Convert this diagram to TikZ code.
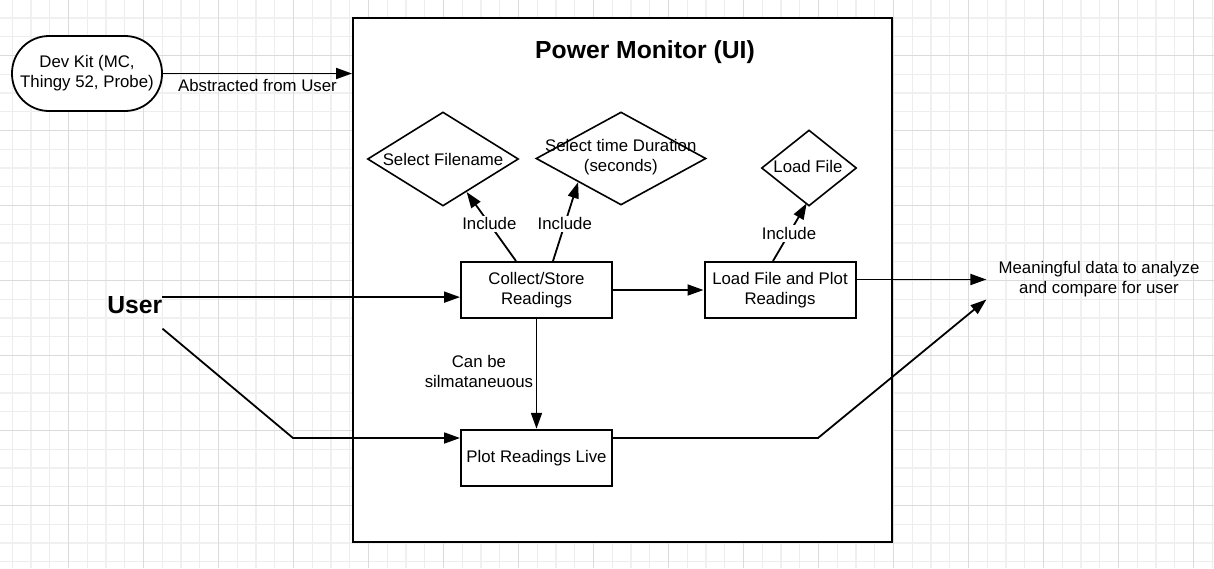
\documentclass[tikz,border=0pt]{standalone}
\usepackage{fontspec}
\setmainfont{Liberation Sans}
\usetikzlibrary{arrows.meta,shapes.geometric,calc}
\begin{document}
\begin{tikzpicture}[x=1pt,y=-1pt,
  txt/.style={font=\fontsize{16.8}{20}\selectfont, align=center, inner sep=1pt},
  box/.style={draw, line width=2pt, fill=white, minimum width=151pt, minimum height=56pt, inner sep=0pt, txt},
  dia/.style={draw, diamond, line width=1.6pt, fill=white, inner sep=0pt},
  conn/.style={line width=1.8pt, -{Triangle[length=16pt,width=11pt]}},
  lbl/.style={txt, fill=white, inner sep=2pt},
  gridminor/.style={line width=1pt, black!7},
  gridmid/.style={line width=1.8pt, black!6},
  gridmajor/.style={line width=1.2pt, black!14},
  ]
\useasboundingbox (0,0) rectangle (1214,568);
\fill[white] (0,0) rectangle (1214,568);
\begin{scope}
\clip (0,0) rectangle (1214,568);
\foreach \i in {0,...,66} \draw[gridminor] ({-6.7+18.75*\i},0) -- ({-6.7+18.75*\i},568);
\foreach \i in {0,...,32} \draw[gridminor] (0,{-19.7+18.75*\i}) -- (1214,{-19.7+18.75*\i});
\foreach \i in {0,...,16} \draw[gridmid] ({30.8+75*\i},0) -- ({30.8+75*\i},568);
\foreach \i in {0,...,8} \draw[gridmid] (0,{17.8+75*\i}) -- (1214,{17.8+75*\i});
\foreach \i in {0,...,17} \draw[gridmajor] ({-6.7+75*\i},0) -- ({-6.7+75*\i},568);
\foreach \i in {0,...,8} \draw[gridmajor] (0,{-19.7+75*\i}) -- (1214,{-19.7+75*\i});
\end{scope}

% main container
\node[draw, line width=2pt, fill=white, minimum width=539pt, minimum height=524pt, inner sep=0pt] (pm) at (622.5,280) {};
\node[font=\bfseries\fontsize{24.7}{28}\selectfont, anchor=base, inner sep=0pt] (title) at (645,58) {Power Monitor (UI)};

% dev kit
\node[draw, line width=1.8pt, fill=white, rounded corners=37pt, minimum width=150pt, minimum height=75pt, txt] (dk) at (87,73.5) {Dev Kit (MC,\\Thingy 52, Probe)};

% user
\node[font=\bfseries\fontsize{24.7}{28}\selectfont, anchor=base, inner sep=0pt] (user) at (134.8,313) {User};

% boxes
\node[box] (cs) at (536.5,290) {Collect/Store\\Readings};
\node[box] (lp) at (780,290) {Load File and Plot\\Readings};
\node[box, minimum height=56.5pt] (pl) at (536.5,458) {Plot Readings Live};

% diamonds
\node[dia, minimum width=151pt, minimum height=94pt] (sf) at (443,159) {};
\node[txt] (sft) at (sf) {Select Filename};
\node[dia, minimum width=170pt, minimum height=93pt] (sd) at (621,158.5) {};
\node[txt] (sdt) at (620.8,157) {Select time Duration\\(seconds)};
\node[dia, minimum width=95pt, minimum height=76pt] (lf) at (809,168) {};
\node[txt] (lft) at (808,166.7) {Load File};

% output text
\node[txt, inner xsep=12pt, inner ysep=0pt] (mf) at (1099,279.5) {Meaningful data to analyze\\and compare for user};

% connectors
\draw[conn] (dk.east) -- node[txt, anchor=base, yshift=-17.5pt] {Abstracted from User} (dk.east -| pm.west);

\draw[conn] ($(cs.north)+(-20.5,0)$) -- node[lbl, pos=0.54] {Include} (sf);
\draw[conn] ($(cs.north)+(16.5,0)$) -- node[lbl, pos=0.47] {Include} (sd.south west);
\draw[conn] ($(lp.north)+(-7,0)$) -- node[lbl, pos=0.475] {Include} ($(lf.south)+(-2.3,-3.5)$);

\draw[conn] (cs.east) -- (lp.west);
\draw[conn] (cs.south) -- (pl.north);
\node[txt, anchor=east] (sim) at (534.3,371.6) {Can be\\silmataneuous};

\coordinate (u1) at ($(user.east)+(0,-7.5)$);
\draw[conn] (u1) -- (u1 -| cs.west);
\coordinate (bend1) at (293,438);
\draw[conn] ($(user.east)+(0,24)$) -- (bend1) -- (bend1 -| pl.west);

\coordinate (bend2) at (818,438);
\draw[conn] (bend2 -| pl.east) -- (bend2) -- ($(mf.west)+(0,20)$);
\draw[conn] (lp.east |- mf.west) -- (mf.west);
\end{tikzpicture}
\end{document}
